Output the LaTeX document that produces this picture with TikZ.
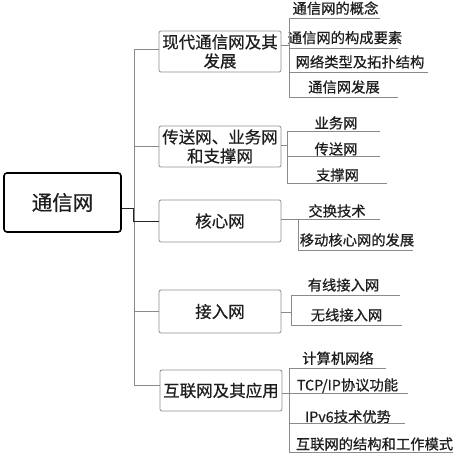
\documentclass[tikz,border=0pt]{standalone}
\usepackage{fontspec}
\setmainfont{Noto Sans CJK SC}[FakeBold=0.6]
\definecolor{boxgray}{HTML}{8F8F8F}
\definecolor{linegray}{HTML}{8A8A8A}
\definecolor{txt}{HTML}{1E1E1E}
\begin{document}
\begin{tikzpicture}[x=1pt,y=-1pt,
  rootbox/.style={draw=black, line width=1.6pt, rounded corners=3pt, minimum width=117pt, minimum height=59pt, inner sep=0pt, font=\fontsize{20.5}{24}\selectfont, text=txt},
  lvl/.style={draw=boxgray, line width=0.8pt, rounded corners=2pt, minimum width=122pt, inner sep=0pt, font=\fontsize{16.5}{19}\selectfont, align=center, text=txt},
  leaf/.style={anchor=base, inner sep=0pt, font=\fontsize{14.3}{16}\selectfont, text=txt},
  ln/.style={draw=linegray, line width=0.8pt},
  rootln/.style={draw=black!85, line width=1pt}]
\useasboundingbox (0,0) rectangle (460,456);

% root and level-1 boxes
\node[rootbox] (root) at (62.5,202.5) {通信网};
\node[lvl, minimum height=41pt] (b1) at (220,51.5) {现代通信网及其\\发展};
\node[lvl, minimum height=41pt] (b2) at (220,146.5) {传送网、业务网\\和支撑网};
\node[lvl, minimum height=42pt] (b3) at (220,221) {核心网};
\node[lvl, minimum height=43pt] (b4) at (220,311.5) {接入网};
\node[lvl, minimum height=41pt] (b5) at (221,390.5) {互联网及其应用};

% trunk
\coordinate (tTop) at (134,49);
\coordinate (tBot) at (134,385);
\draw[ln] (tTop) -- (tBot);
\draw[ln] (tTop) -- (tTop -| b1.west);
\draw[ln] (b2.west -| tTop) -- (b2.west);
\draw[ln] (b3.west -| tTop) -- (b3.west);
\draw[ln] (b4.west -| tTop) -- (b4.west);
\draw[ln] (tBot) -- (tBot -| b5.west);
\coordinate (rj) at (133,208);
\draw[rootln] (root.east |- rj) -- (rj) -- (rj |- b3.west) -- (b3.west);

% group 1
\node[leaf] (l11) at (335.5,13.7) {通信网的概念};
\node[leaf] (l12) at (345,43.1) {通信网的构成要素};
\node[leaf] (l13) at (360,67.4) {网络类型及拓扑结构};
\node[leaf] (l14) at (344,92.4) {通信网发展};
\coordinate (g1) at (289,45);
\draw[ln] (b1.east |- g1) -- (g1);
\draw[ln] (289,18) -- (289,97);
\draw[ln] (289,18) -- (380,18);
\draw[ln] (289,48) -- (398,48);
\draw[ln] (289,72) -- (428,72);
\draw[ln] (289,97) -- (398,97);

% group 2
\node[leaf] (l21) at (336,128.4) {业务网};
\node[leaf] (l22) at (336,154.4) {传送网};
\node[leaf] (l23) at (337.5,180.4) {支撑网};
\coordinate (g2) at (287,145);
\draw[ln] (b2.east |- g2) -- (g2);
\draw[ln] (287,131.7) -- (287,183);
\draw[ln] (287,131.7) -- (380,131.7);
\draw[ln] (287,156.7) -- (380,156.7);
\draw[ln] (287,183) -- (387,183);

% group 3
\node[leaf] (l31) at (337,216.4) {交换技术};
\node[leaf] (l32) at (357,245.4) {移动核心网的发展};
\coordinate (g3) at (298,219);
\draw[ln] (b3.east |- g3) -- (380,219);
\draw[ln] (g3) -- (298,250);
\draw[ln] (298,250) -- (413,250);

% group 4
\node[leaf] (l41) at (343.5,290.4) {有线接入网};
\node[leaf] (l42) at (346.5,320.4) {无线接入网};
\coordinate (g4) at (291,312);
\draw[ln] (b4.east |- g4) -- (g4);
\draw[ln] (291,295) -- (291,325);
\draw[ln] (291,295) -- (400,295);
\draw[ln] (291,325) -- (402,325);

% group 5
\node[leaf] (l51) at (338,363.7) {计算机网络};
\node[leaf] (l52) at (347.5,390.4) {TCP/IP协议功能};
\node[leaf] (l53) at (348,422.1) {IPv6技术优势};
\node[leaf] (l54) at (374.5,449.4) {互联网的结构和工作模式};
\coordinate (g5) at (289,393);
\draw[ln] (b5.east |- g5) -- (g5);
\draw[ln] (289,368) -- (289,452);
\draw[ln] (289,368) -- (386,368);
\draw[ln] (289,393) -- (408,393);
\draw[ln] (289,423.3) -- (405,423.3);
\draw[ln] (289,452) -- (453,452);
\end{tikzpicture}
\end{document}
